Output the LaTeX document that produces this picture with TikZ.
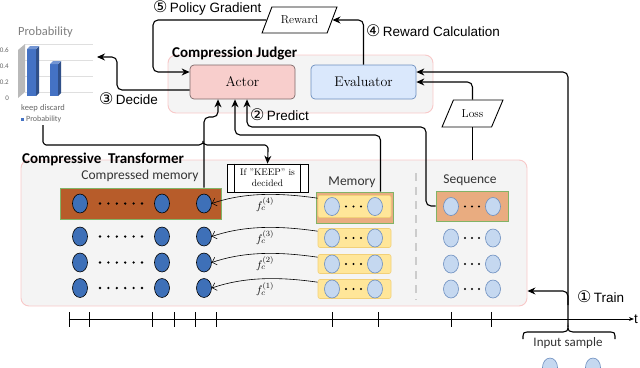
\documentclass[tikz,border=0pt]{standalone}
\usepackage{fontspec}
\usetikzlibrary{arrows.meta,shapes.geometric}

\newfontfamily\liberationsans{Liberation Sans}
\newfontfamily\carlitofont{Carlito}
\newfontfamily\dejavufont{DejaVu Sans}
\newcommand\circnum[1]{{\dejavufont\fontsize{16}{16}\selectfont #1}}

\definecolor{panelfill}{RGB}{244,244,244}
\definecolor{panelline}{RGB}{248,200,200}
\definecolor{actorfill}{RGB}{248,206,204}
\definecolor{actorline}{RGB}{125,105,105}
\definecolor{evalfill}{RGB}{218,232,252}
\definecolor{evalline}{RGB}{108,142,191}
\definecolor{cmemfill}{RGB}{183,92,42}
\definecolor{greenline}{RGB}{130,179,102}
\definecolor{darkdot}{RGB}{62,112,184}
\definecolor{lightdot}{RGB}{197,216,240}
\definecolor{memorange}{RGB}{233,172,128}
\definecolor{memyellow}{RGB}{255,230,153}
\definecolor{yellowline}{RGB}{242,208,120}
\definecolor{barblue}{RGB}{68,114,196}
\definecolor{chartgray}{RGB}{127,127,127}

\begin{document}
\begin{tikzpicture}[x=1pt, y=-1pt,
		arr/.style={line width=1.1pt, -{Stealth[length=8pt,width=7pt]}, rounded corners=5pt},
		link/.style={line width=1.1pt, rounded corners=5pt},
		fcarr/.style={line width=0.6pt, -{Straight Barb[length=4pt,width=8pt]}},
		panel/.style={draw=panelline, fill=panelfill, line width=0.9pt, rounded corners=8pt},
		actorbox/.style={draw=actorline, fill=actorfill, line width=0.7pt, rounded corners=4pt, minimum width=105pt, minimum height=34pt, font=\fontsize{14}{16}\selectfont},
		evalbox/.style={draw=evalline, fill=evalfill, line width=0.7pt, rounded corners=4pt, minimum width=105pt, minimum height=34pt, font=\fontsize{14}{16}\selectfont},
		databox/.style={draw, fill=white, line width=0.9pt, trapezium, trapezium left angle=51, trapezium right angle=129, trapezium stretches=true, inner sep=0pt, font=\fontsize{11.5}{14}\selectfont},
		stepnote/.style={font=\liberationsans\fontsize{13.5}{16}\selectfont, inner sep=0pt},
		title/.style={font=\carlitofont\bfseries\fontsize{15}{18}\selectfont, inner sep=0pt},
		caption/.style={font=\carlitofont\fontsize{13.5}{16}\selectfont, text=black!80, inner sep=0pt},
		charttext/.style={font=\carlitofont\fontsize{8.5}{10}\selectfont, text=black!60, inner sep=0pt},
		cdot/.style={ellipse, draw=black, fill=darkdot, line width=0.6pt, minimum width=15pt, minimum height=19pt, inner sep=0pt},
		ldot/.style={ellipse, draw=evalline, fill=lightdot, line width=0.6pt, minimum width=15pt, minimum height=18pt, inner sep=0pt},
		rowbox/.style={draw=greenline, fill=#1, line width=0.7pt, inner sep=0pt},
		yellowrow/.style={draw=yellowline, fill=memyellow, line width=0.6pt, rounded corners=2pt, minimum width=73pt, inner sep=0pt},
		fclabel/.style={font=\fontsize{11}{12}\selectfont, inner sep=0pt}]
	\useasboundingbox (0,0) rectangle (640,367);

	\node[panel, minimum width=506pt, minimum height=146pt] (ct) at (274,233) {};
	\node[panel, minimum width=265pt, minimum height=58pt] (judger) at (300.5,84) {};
	\node[title, anchor=base west] (cttitle) at (22,163) {Compressive\ \ Transformer};
	\node[title, anchor=base west] (judgertitle) at (172,57) {Compression Judger};

	\node[actorbox] (actor) at (242.5,82) {Actor};
	\node[evalbox] (evaluator) at (363.5,82) {Evaluator};
	\node[databox, minimum width=75pt, minimum height=26pt] (reward) at (299.5,20) {Reward};
	\node[databox, minimum width=61pt, minimum height=27pt] (loss) at (472.5,113.5) {Loss};

	\node[stepnote, anchor=base west] (gradient) at (153,12.5) {\circnum{⑤}\,Policy Gradient};
	\node[stepnote, anchor=base west] (calculation) at (366,36) {\circnum{④}\,Reward Calculation};
	\node[stepnote, anchor=base west] (decide) at (99,104) {\circnum{③}\,Decide};
	\node[stepnote, anchor=base west] (predict) at (250,120.5) {\circnum{②}\,Predict};
	\node[stepnote, anchor=base west] (train) at (577,302) {\circnum{①}\,Train};

	\node[caption] (cmemlabel) at (140,176) {Compressed memory};
	\node[caption] (memlabel) at (352,182) {Memory};
	\node[caption] (seqlabel) at (470,180) {Sequence};
	\node[draw, fill=white, line width=0.6pt, minimum width=81pt, minimum height=28pt, align=center, inner sep=0pt, font=\fontsize{9.5}{11}\selectfont] (keep) at (267.5,178) {If "KEEP" is\\decided};
	\draw[line width=0.6pt] ([xshift=8pt]keep.north west) -- ([xshift=8pt]keep.south west);
	\draw[line width=0.6pt] ([xshift=-8pt]keep.north east) -- ([xshift=-8pt]keep.south east);
	\draw[gray!40, line width=1.2pt, dash pattern=on 8pt off 6pt] (416,173) -- (416,300);

	\node[rowbox=cmemfill, minimum width=161pt, minimum height=31pt] (cmem) at (140.5,203.5) {};
	\node[rowbox=memorange, minimum width=77pt, minimum height=31pt] (mem) at (354.5,207.5) {};
	\node[rowbox=memorange, minimum width=72pt, minimum height=30pt] (seq) at (472,206) {};

	\foreach \r/\cy/\my/\h in {4/203.5/206.5/22, 3/236.5/238/19, 2/262.5/264/19, 1/288/289/19}{
		\node[yellowrow, minimum height=\h pt] (y\r) at (354.5,\my) {};
		\node[cdot] (ca\r) at (80,\cy) {};
		\node[cdot] (cb\r) at (162,\cy) {};
		\node[cdot] (cc\r) at (204,\cy) {};
		\foreach \d in {0,...,5} \fill (100+8.4*\d,\cy) circle (1.3pt);
		\node[ldot] (ma\r) at (332,\my) {};
		\node[ldot] (mb\r) at (375,\my) {};
		\node[ldot] (sa\r) at (451,\my) {};
		\node[ldot] (sb\r) at (493,\my) {};
		\foreach \d in {0,1,2} {
			\fill (346+7.5*\d,\my) circle (1.2pt);
			\fill (465+7*\d,\my) circle (1.2pt);
		}
		\node[fclabel] (fc\r) at (265,\cy+1) {$f_c^{(\r)}$};
		\draw[fcarr] ([yshift=-3pt]y\r.north west) .. controls +(-35,-5) and +(35,-12) .. (cc\r.east);
	}

	\node[charttext, text=chartgray, font=\carlitofont\fontsize{12.5}{14}\selectfont] (charttitle) at (45.5,32) {Probability};
	\foreach \v/\gy in {0.6/50, 0.4/66, 0.2/82, 0/98}
		\node[charttext, anchor=east, font=\carlitofont\fontsize{7}{8}\selectfont] (tick\gy) at (9,\gy) {\v};
	\foreach \gy in {44,60,76,92}
		\draw[gray!25, line width=0.6pt] (25,\gy) -- (93,\gy);
	\fill[gray!55] (18,50) -- (25,44) -- (25,92) -- (18,98) -- cycle;
	\fill[barblue] (27,49) rectangle (36,96);
	\fill[barblue!70!black] (36,49) -- (39,46) -- (39,93) -- (36,96) -- cycle;
	\fill[barblue!75!white] (27,49) -- (30,46) -- (39,46) -- (36,49) -- cycle;
	\fill[barblue] (50,64) rectangle (58,96);
	\fill[barblue!70!black] (58,64) -- (61,61) -- (61,93) -- (58,96) -- cycle;
	\fill[barblue!75!white] (50,64) -- (53,61) -- (61,61) -- (58,64) -- cycle;
	\node[charttext] (keeplabel) at (29.5,108) {keep};
	\node[charttext] (discardlabel) at (52.5,108) {discard};
	\fill[barblue] (20.5,117.5) rectangle (24,121);
	\node[charttext, anchor=west, font=\carlitofont\fontsize{8}{9}\selectfont] (legendlabel) at (26,119) {Probability};
	\coordinate (chartin) at (97,57);
	\coordinate (chartfoot) at (43,125);

	\draw[arr] (evaluator.north) |- (reward.east);
	\draw[arr] (reward.west) -| (153,72) -- ([yshift=10pt]actor.west);
	\draw[arr] ([yshift=-8pt]actor.west) -| (117,57) -- (chartin);
	\draw[arr] (chartfoot) -- (43,137) .. controls (43,143) and (45,145) .. (51,145) -- (194,145) .. controls (200,145) and (203,143) .. (203,138) .. controls (203,143) and (206,145) .. (212,145) -- (260,145) .. controls (266,145) and (268,147) .. (268,153) -- (keep.north);
	\draw[arr] (cc4 |- cmem.north) -- (204,117) -| ([xshift=-24.5pt]actor.south);
	\draw[arr] ([xshift=26pt]mem.north) |- (235,135) -- ([xshift=-7.5pt]actor.south);
	\draw[arr] (seq.west) -| (426,127) -| ([xshift=4.5pt]actor.south);
	\draw[link] (loss.south |- ct.north) -- (loss.south);
	\draw[arr] (loss.north) |- (evaluator.east);

	\draw[line width=1.1pt] (523,339) -- (523,336) .. controls (523,333) and (524,332) .. (527,332) -- (563,332) .. controls (566,332) and (568,331) .. (568,327) coordinate (inputtip) .. controls (568,331) and (570,332) .. (573,332) -- (611,332) .. controls (614,332) and (615,333) .. (615,336) -- (615,339);
	\node[caption, font=\carlitofont\fontsize{13}{15}\selectfont] (inputlabel) at (568,343) {Input sample};
	\draw[arr] (inputtip) |- ([yshift=10pt]evaluator.east);
	\draw[arr] ([yshift=22pt]inputtip) |- (ct.east |- 0,291);
	\begin{scope}
		\clip (0,0) rectangle (640,367);
		\node[ldot, minimum height=19pt] (inputa) at (550,367.5) {};
		\node[ldot, minimum height=19pt] (inputb) at (593,367.5) {};
	\end{scope}

	\node[stepnote] (tlabel) at (636,319) {t};
	\coordinate (tstart) at (68.5,319);
	\draw[line width=0.8pt, -{Stealth[length=5pt,width=4pt]}] (tstart) -- (tlabel.west);
	\foreach \tx in {69,89,152,174,195,216,332,378,451,491}
		\draw[line width=0.8pt] (\tx,312) -- (\tx,327);
\end{tikzpicture}
\end{document}
